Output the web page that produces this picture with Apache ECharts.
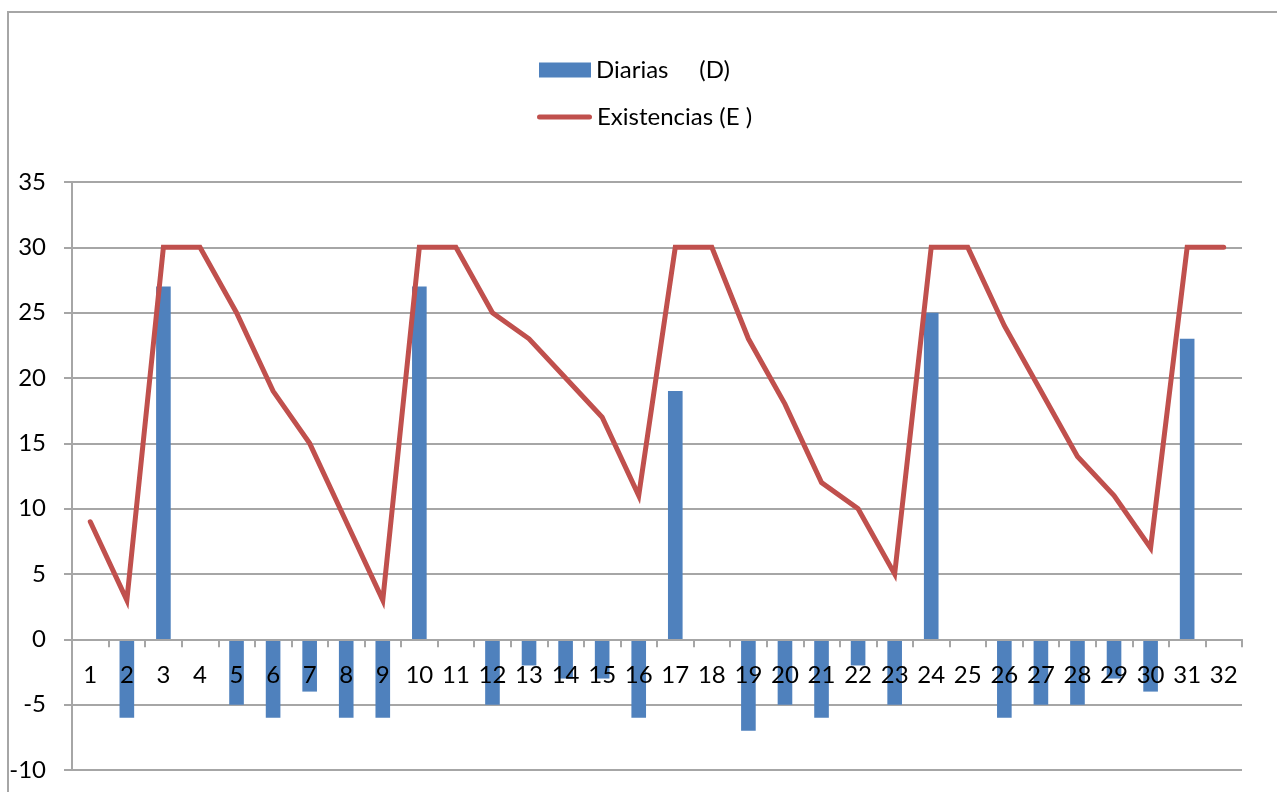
<!DOCTYPE html>
<html>
<head>
<meta charset="utf-8">
<script src="https://cdn.jsdelivr.net/npm/echarts@6/dist/echarts.min.js"></script>
<style>
  html, body { margin: 0; padding: 0; background: #fff; }
  #chart { width: 1277px; height: 792px; }
</style>
</head>
<body>
<div id="chart"></div>
<script>
// Days of the period
const days = ['1','2','3','4','5','6','7','8','9','10','11','12','13','14','15','16',
              '17','18','19','20','21','22','23','24','25','26','27','28','29','30','31','32'];
// Daily movement (D)
const diarias = [0, -6, 27, 0, -5, -6, -4, -6, -6, 27, 0, -5, -2, -3, -3, -6,
                 19, 0, -7, -5, -6, -2, -5, 25, 0, -6, -5, -5, -3, -4, 23, 0];
// Stock level (E)
const existencias = [9, 3, 30, 30, 25, 19, 15, 9, 3, 30, 30, 25, 23, 20, 17, 11,
                     30, 30, 23, 18, 12, 10, 5, 30, 30, 24, 19, 14, 11, 7, 30, 30];
const yTicks = { min: -10, max: 35, step: 5 };

const nameD = 'Diarias     (D)';
const nameE = 'Existencias (E )';
const FONT = 'Lato, "Open Sans", sans-serif';
const GRID_GRAY = '#a6a6a6';

// plot area
const GRID = { left: 72, right: 35, top: 182, bottom: 22 };
const plotH = 792 - GRID.top - GRID.bottom;
// the category axis sits on the zero line: shift it up from the bottom edge
const zeroShift = -plotH * (0 - yTicks.min) / (yTicks.max - yTicks.min);

const chart = echarts.init(document.getElementById('chart'), null, { renderer: 'canvas' });
chart.setOption({
  animation: false,
  backgroundColor: '#fff',
  textStyle: { fontFamily: FONT },
  graphic: [{
    type: 'rect',
    shape: { x: 8, y: 12, width: 1400, height: 900 },
    style: { fill: 'none', stroke: GRID_GRAY, lineWidth: 2 },
    silent: true
  }],
  legend: [{
    data: [{ name: nameD, icon: 'rect' }],
    left: 539, top: 58, padding: 0,
    itemWidth: 52, itemHeight: 15,
    textStyle: { fontSize: 24, lineHeight: 24, color: '#000', fontFamily: FONT }
  }, {
    data: [{ name: nameE, icon: 'path://M2.5,0H52.5A2.5,2.5,0,0,1,52.5,5H2.5A2.5,2.5,0,0,1,2.5,0Z' }],
    left: 537, top: 105, padding: 0,
    itemWidth: 55, itemHeight: 15,
    textStyle: { fontSize: 24, lineHeight: 24, color: '#000', fontFamily: FONT }
  }],
  grid: Object.assign({ containLabel: false, outerBoundsMode: 'none' }, GRID),
  xAxis: {
    type: 'category',
    data: days,
    boundaryGap: true,
    position: 'bottom',
    offset: zeroShift,
    z: 5,
    axisLine: { onZero: false, lineStyle: { color: GRID_GRAY, width: 2 } },
    axisTick: { show: true, inside: false, length: 8, alignWithLabel: false,
                lineStyle: { color: GRID_GRAY, width: 2 } },
    axisLabel: { interval: 0, margin: 24, color: '#000', fontSize: 24, fontFamily: FONT }
  },
  yAxis: {
    type: 'value',
    min: yTicks.min, max: yTicks.max, interval: yTicks.step,
    axisLine: { show: true, lineStyle: { color: GRID_GRAY, width: 2 } },
    axisTick: { show: true, inside: false, length: 8, lineStyle: { color: GRID_GRAY, width: 2 } },
    axisLabel: { margin: 26, color: '#000', fontSize: 24, fontFamily: FONT },
    splitLine: { show: true, lineStyle: { color: GRID_GRAY, width: 2 } }
  },
  series: [{
    name: nameD,
    type: 'bar',
    data: diarias,
    barWidth: '40%',
    itemStyle: { color: '#4f81bd' },
    z: 2
  }, {
    name: nameE,
    type: 'line',
    data: existencias,
    symbol: 'none',
    color: '#c0504d',
    lineStyle: { color: '#c0504d', width: 5, cap: 'round', join: 'miter' },
    itemStyle: { color: '#c0504d' },
    z: 3
  }]
});
</script>
</body>
</html>
